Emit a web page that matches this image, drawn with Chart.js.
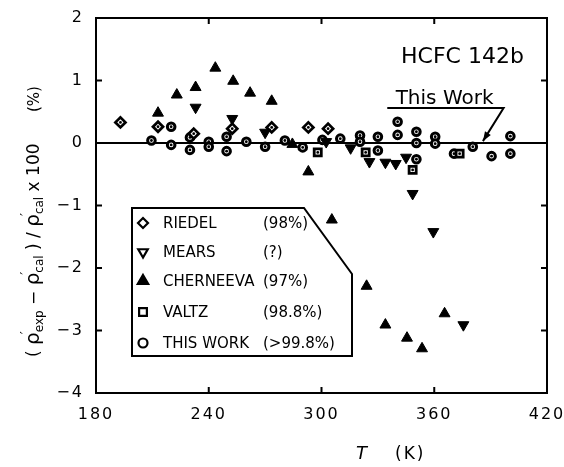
<!DOCTYPE html>
<html>
<head>
<meta charset="utf-8">
<script src="https://cdn.jsdelivr.net/npm/chart.js@4/dist/chart.umd.min.js"></script>
<style>
  html, body { margin: 0; padding: 0; background: #fff; }
  #wrap { width: 564px; height: 467px; position: relative; }
</style>
</head>
<body>
<div id="wrap"><canvas id="chart"></canvas></div>
<script>
// Data (T in K, deviation in %)
const riedelT = [193, 213, 232, 252.5, 273.5, 293, 303.5];
const riedelD = [0.33, 0.26, 0.15, 0.23, 0.25, 0.25, 0.23];

const mearsT = [233, 252.5, 270, 302.5, 315.5, 325.5, 334, 339.5, 345, 348.5, 359.5, 375.5];
const mearsD = [0.57, 0.39, 0.17, 0.02, -0.08, -0.30, -0.31, -0.33, -0.23, -0.81, -1.42, -2.91];

const cherneevaT = [213, 223, 233, 243.5, 253, 262, 273.5, 284.5, 293, 305.5, 324, 334, 345.5, 353.5, 365.5];
const cherneevaD = [0.48, 0.77, 0.89, 1.20, 0.99, 0.80, 0.67, -0.02, -0.46, -1.23, -2.29, -2.91, -3.12, -3.29, -2.73];

const valtzT = [298, 323.5, 348.5, 373.5];
const valtzD = [-0.15, -0.15, -0.43, -0.17];

const thisWorkT = [209.5, 220, 220, 230, 230, 240, 240, 249.5, 249.5, 260, 270, 280.5, 290, 300.5, 310,
                   320.5, 320.5, 330, 330, 340.5, 340.5, 350.5, 350.5, 350.5, 360.5, 360.5, 370.5, 380.5, 390.5, 400.5, 400.5];
const thisWorkD = [0.04, 0.26, -0.03, 0.09, -0.11, 0.02, -0.06, 0.10, -0.13, 0.02, -0.06, 0.04, -0.07, 0.05, 0.07,
                   0.12, 0.02, 0.10, -0.12, 0.34, 0.13, 0.18, 0.0, -0.26, 0.10, -0.01, -0.17, -0.06, -0.21, 0.11, -0.17];

// Axis ticks
const xTicks = [180, 240, 300, 360, 420];
const xTickLabels = ['180', '240', '300', '360', '420'];
const yTicks = [-4, -3, -2, -1, 0, 1, 2];
const yTickLabels = ['\u22124', '\u22123', '\u22122', '\u22121', '0', '1', '2'];

// Legend text
const legendNames = ['RIEDEL', 'MEARS', 'CHERNEEVA', 'VALTZ', 'THIS WORK'];
const legendNotes = ['(98%)', '(?)', '(97%)', '(98.8%)', '(>99.8%)'];

const FONT = 'DejaVu Sans';

function pts(xs, ys) {
    return xs.map((x, i) => ({ x: x, y: ys[i] }));
}

// Draw a center dot on the open markers
const dotPlugin = {
    id: 'dots',
    afterDatasetsDraw(chart) {
        const ctx = chart.ctx;
        ctx.save();
        ctx.fillStyle = '#000';
        chart.data.datasets.forEach((ds, i) => {
            if (!ds.centerDot) return;
            chart.getDatasetMeta(i).data.forEach(el => {
                ctx.beginPath();
                ctx.arc(el.x, el.y, 1.4, 0, Math.PI * 2);
                ctx.fill();
            });
        });
        ctx.restore();
    }
};

// Frame, inward ticks, zero line, legend box, annotations, axis titles
const decoPlugin = {
    id: 'deco',
    beforeDraw(chart) {
        chart.ctx.letterSpacing = '2px';
    },
    beforeDatasetsDraw(chart) {
        const ctx = chart.ctx;
        ctx.letterSpacing = '0px';
        const a = chart.chartArea;
        const xs = chart.scales.x, ys = chart.scales.y;
        ctx.save();
        ctx.strokeStyle = '#000';
        ctx.lineWidth = 2;
        // zero line
        const y0 = ys.getPixelForValue(0);
        ctx.beginPath();
        ctx.moveTo(a.left, y0);
        ctx.lineTo(a.right, y0);
        ctx.stroke();
        // frame
        ctx.strokeRect(a.left, a.top, a.right - a.left, a.bottom - a.top);
        // inward ticks
        const tl = 6;
        ctx.beginPath();
        yTicks.forEach(v => {
            const py = ys.getPixelForValue(v);
            ctx.moveTo(a.left, py); ctx.lineTo(a.left + tl, py);
            ctx.moveTo(a.right, py); ctx.lineTo(a.right - tl, py);
        });
        xTicks.forEach(v => {
            const px = xs.getPixelForValue(v);
            ctx.moveTo(px, a.bottom); ctx.lineTo(px, a.bottom - tl);
            ctx.moveTo(px, a.top); ctx.lineTo(px, a.top + tl);
        });
        ctx.stroke();
        ctx.restore();
    },
    afterDraw(chart) {
        const ctx = chart.ctx;
        const xs = chart.scales.x, ys = chart.scales.y;
        const X = v => xs.getPixelForValue(v);
        const Y = v => ys.getPixelForValue(v);
        ctx.save();
        ctx.fillStyle = '#000';
        ctx.strokeStyle = '#000';

        // title
        ctx.font = '22px ' + FONT;
        ctx.textAlign = 'center';
        ctx.textBaseline = 'alphabetic';
        ctx.fillText('HCFC 142b', X(375), Y(1.28));

        // "This Work" with arrow
        ctx.font = '20px ' + FONT;
        ctx.fillText('This Work', X(365.5), Y(0.62));
        ctx.lineWidth = 2;
        const ax0 = X(335), ay0 = Y(0.56), ax1 = X(396.9), tipX = X(385.9), tipY = Y(0.03);
        ctx.beginPath();
        ctx.moveTo(ax0, ay0);
        ctx.lineTo(ax1, ay0);
        ctx.lineTo(tipX, tipY);
        ctx.stroke();
        const ang = Math.atan2(tipY - ay0, tipX - ax1);
        ctx.beginPath();
        ctx.moveTo(tipX, tipY);
        ctx.lineTo(tipX - 10 * Math.cos(ang - 0.35), tipY - 10 * Math.sin(ang - 0.35));
        ctx.lineTo(tipX - 10 * Math.cos(ang + 0.35), tipY - 10 * Math.sin(ang + 0.35));
        ctx.closePath();
        ctx.fill();

        // legend box
        ctx.lineWidth = 2;
        ctx.fillStyle = '#fff';
        ctx.beginPath();
        ctx.moveTo(132, 208);
        ctx.lineTo(304, 208);
        ctx.lineTo(352, 274);
        ctx.lineTo(352, 356);
        ctx.lineTo(132, 356);
        ctx.closePath();
        ctx.fill();
        ctx.stroke();

        const rows = [223, 252, 281, 312, 343];
        const syms = [
            { pointStyle: 'rectRot', radius: 5, rotation: 0, fill: '#fff' },
            { pointStyle: 'triangle', radius: 5.5, rotation: 180, fill: '#fff' },
            { pointStyle: 'triangle', radius: 6, rotation: 0, fill: '#000' },
            { pointStyle: 'rect', radius: 5.5, rotation: 0, fill: '#fff' },
            { pointStyle: 'circle', radius: 4.5, rotation: 0, fill: '#fff' }
        ];
        ctx.font = '15px ' + FONT;
        ctx.textAlign = 'left';
        ctx.textBaseline = 'middle';
        rows.forEach((ry, i) => {
            const s = syms[i];
            ctx.fillStyle = s.fill;
            ctx.strokeStyle = '#000';
            ctx.lineWidth = 2.2;
            Chart.helpers.drawPoint(ctx, { pointStyle: s.pointStyle, radius: s.radius, rotation: s.rotation, borderWidth: 2.2 }, 143, ry);
            ctx.fillStyle = '#000';
            ctx.fillText(legendNames[i], 163, ry + 1);
            ctx.fillText(legendNotes[i], 263, ry + 1);
        });

        // x-axis title
        ctx.textBaseline = 'alphabetic';
        ctx.font = 'italic 18px ' + FONT;
        ctx.fillText('T', 356, 459);
        ctx.letterSpacing = '2px';
        ctx.font = '17px ' + FONT;
        ctx.fillText('(K)', 395, 459);
        ctx.letterSpacing = '0px';

        // y-axis title (rotated, built from pieces)
        ctx.translate(39, 357);
        ctx.rotate(-Math.PI / 2);
        let cx = 0;
        const piece = (t, size, dy) => {
            ctx.font = size + 'px ' + FONT;
            ctx.fillText(t, cx, dy);
            cx += ctx.measureText(t).width;
        };
        const rho = (sub) => {
            piece('\u03C1', 20, 0);
            ctx.font = '14px ' + FONT;
            ctx.fillText('\u2032', cx - 2, -9);
            piece(sub, 12, 4);
        };
        piece('( ', 17, 0);
        rho('exp');
        piece(' \u2212 ', 17, 0);
        rho('cal');
        piece(' ) / ', 17, 0);
        rho('cal');
        piece(' x 100', 17, 0);
        cx = 245;
        piece('(%)', 15, 0);
        ctx.restore();
    }
};

const ctx = document.getElementById('chart').getContext('2d');
new Chart(ctx, {
    type: 'scatter',
    data: {
        datasets: [
            {
                label: 'CHERNEEVA',
                data: pts(cherneevaT, cherneevaD),
                pointStyle: 'triangle',
                pointRadius: 6.3,
                backgroundColor: '#000',
                borderColor: '#000',
                borderWidth: 1
            },
            {
                label: 'MEARS',
                data: pts(mearsT, mearsD),
                pointStyle: 'triangle',
                rotation: 180,
                pointRadius: 6.3,
                backgroundColor: '#000',
                borderColor: '#000',
                borderWidth: 1
            },
            {
                label: 'RIEDEL',
                data: pts(riedelT, riedelD),
                pointStyle: 'rectRot',
                pointRadius: 5,
                backgroundColor: '#fff',
                borderColor: '#000',
                borderWidth: 2.8,
                centerDot: true
            },
            {
                label: 'VALTZ',
                data: pts(valtzT, valtzD),
                pointStyle: 'rect',
                pointRadius: 5,
                backgroundColor: '#fff',
                borderColor: '#000',
                borderWidth: 2.8,
                centerDot: true
            },
            {
                label: 'THIS WORK',
                data: pts(thisWorkT, thisWorkD),
                pointStyle: 'circle',
                pointRadius: 3.8,
                backgroundColor: '#fff',
                borderColor: '#000',
                borderWidth: 3,
                centerDot: true
            }
        ]
    },
    options: {
        responsive: true,
        maintainAspectRatio: false,
        animation: false,
        layout: { padding: { top: 18, right: 17, left: 0, bottom: 0 } },
        plugins: {
            legend: { display: false },
            tooltip: { enabled: false }
        },
        scales: {
            x: {
                type: 'linear',
                min: 180,
                max: 420,
                afterFit: s => { s.height = 74; s.paddingLeft = 0; s.paddingRight = 0; },
                afterBuildTicks: s => { s.ticks = xTicks.map(v => ({ value: v })); },
                grid: { display: false },
                border: { display: false },
                ticks: {
                    padding: 4,
                    color: '#000',
                    font: { family: FONT, size: 16 },
                    maxRotation: 0,
                    callback: v => xTickLabels[xTicks.indexOf(v)]
                }
            },
            y: {
                type: 'linear',
                min: -4,
                max: 2,
                afterFit: s => { s.width = 96; s.paddingTop = 0; s.paddingBottom = 0; },
                afterBuildTicks: s => { s.ticks = yTicks.map(v => ({ value: v })); },
                grid: { display: false },
                border: { display: false },
                ticks: {
                    padding: 4,
                    color: '#000',
                    font: { family: FONT, size: 16 },
                    callback: v => yTickLabels[yTicks.indexOf(v)]
                }
            }
        }
    },
    plugins: [dotPlugin, decoPlugin]
});
</script>
</body>
</html>
